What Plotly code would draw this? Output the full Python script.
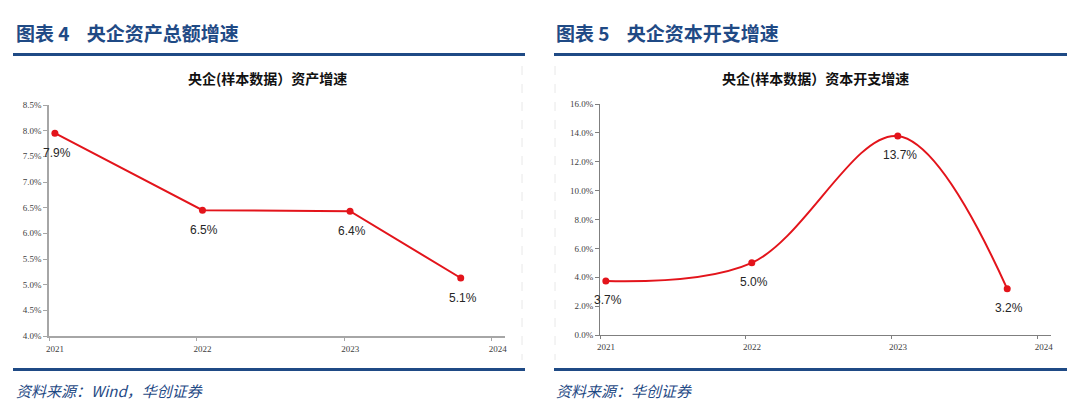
import plotly.graph_objects as go

# ---- data ----
x_pos = [2021.04, 2022.04, 2023.04, 2023.79]
asset_growth = [0.0795, 0.0645, 0.0643, 0.0513]
asset_labels = ["7.9%", "6.5%", "6.4%", "5.1%"]
capex_growth = [0.0374, 0.0500, 0.1378, 0.0320]
capex_labels = ["3.7%", "5.0%", "13.7%", "3.2%"]
year_ticks = [2021, 2022, 2023, 2024]
year_labels = ["2021", "2022", "2023", "2024"]

RED = "#E3141B"
BLUE = "#1F4A85"
W, H = 1080, 399

def px(x):
    return x / W

def py(y):
    return 1 - y / H

fig = go.Figure()

fig.add_trace(go.Scatter(
    x=x_pos, y=asset_growth, mode="lines+markers",
    line=dict(color=RED, width=2), marker=dict(color=RED, size=7),
    xaxis="x", yaxis="y", showlegend=False, hoverinfo="skip"))

fig.add_trace(go.Scatter(
    x=x_pos, y=capex_growth, mode="lines+markers",
    line=dict(color=RED, width=2, shape="spline", smoothing=1.0),
    marker=dict(color=RED, size=7),
    xaxis="x2", yaxis="y2", showlegend=False, hoverinfo="skip"))

tickfont = dict(family="Liberation Serif", size=9, color="#404040")

common_x = dict(tickmode="array", tickvals=year_ticks, ticktext=year_labels,
                showgrid=False, zeroline=False, showline=True, automargin=False,
                ticks="outside", ticklen=3, tickfont=tickfont,
                range=[2021, 2024.09], ticklabelshift=6)
common_y = dict(showgrid=False, zeroline=False, showline=True, automargin=False,
                ticks="outside", ticklen=4, tickfont=tickfont, tickformat=".1%")

fig.update_layout(
    width=W, height=H,
    margin=dict(l=0, r=0, t=0, b=0, autoexpand=False),
    paper_bgcolor="white", plot_bgcolor="white",
    xaxis=dict(domain=[px(41), px(497)], anchor="y",
               linecolor="#A6A6A6", linewidth=1.5, tickcolor="#A6A6A6", **common_x),
    yaxis=dict(domain=[py(328), py(97)], anchor="x", range=[0.04, 0.085], dtick=0.005,
               linecolor="#A6A6A6", linewidth=1.5, tickcolor="#A6A6A6", **common_y),
    xaxis2=dict(domain=[px(592), px(1043)], anchor="y2",
                linecolor="#7F7F7F", linewidth=1, tickcolor="#7F7F7F", **common_x),
    yaxis2=dict(domain=[py(327), py(96)], anchor="x2", range=[0, 0.16], dtick=0.02,
                linecolor="#7F7F7F", linewidth=1, tickcolor="#7F7F7F", **common_y),
)

labfont = dict(family="Liberation Sans", size=12, color="#262626")
ann = []
for xv, yv, t in zip(x_pos, asset_growth, asset_labels):
    ann.append(dict(x=xv, y=yv, xref="x", yref="y", text=t, showarrow=False,
                    yshift=-20, xshift=2, font=labfont))
for xv, yv, t in zip(x_pos, capex_growth, capex_labels):
    ann.append(dict(x=xv, y=yv, xref="x2", yref="y2", text=t, showarrow=False,
                    yshift=-19, xshift=2, font=labfont))

hdr_font = dict(family="Noto Sans CJK SC", size=19, color=BLUE, weight="bold")
ann.append(dict(x=px(6), y=py(24), xref="paper", yref="paper", xanchor="left", yanchor="middle",
                text="图表 4 &nbsp;&nbsp; 央企资产总额增速", showarrow=False, font=hdr_font))
ann.append(dict(x=px(546), y=py(24), xref="paper", yref="paper", xanchor="left", yanchor="middle",
                text="图表 5 &nbsp;&nbsp; 央企资本开支增速", showarrow=False, font=hdr_font))

ttl_font = dict(family="Noto Sans CJK SC", size=14, color="#111111", weight="bold")
ann.append(dict(x=px(259), y=py(70), xref="paper", yref="paper", xanchor="center", yanchor="middle",
                text="央企(样本数据）资产增速", showarrow=False, font=ttl_font))
ann.append(dict(x=px(807), y=py(70), xref="paper", yref="paper", xanchor="center", yanchor="middle",
                text="央企(样本数据）资本开支增速", showarrow=False, font=ttl_font))

src_font = dict(family="Noto Sans CJK SC", size=15, color=BLUE, style="italic")
ann.append(dict(x=px(6), y=py(382), xref="paper", yref="paper", xanchor="left", yanchor="middle",
                text="资料来源：Wind，华创证券", showarrow=False, font=src_font))
ann.append(dict(x=px(546), y=py(382), xref="paper", yref="paper", xanchor="left", yanchor="middle",
                text="资料来源：华创证券", showarrow=False, font=src_font))

fig.update_layout(annotations=ann)

shapes = []
for x0, x1 in [(5, 517), (546, 1059)]:
    for yy in (46.5, 361.5):
        shapes.append(dict(type="line", xref="paper", yref="paper",
                           x0=px(x0), x1=px(x1), y0=py(yy), y1=py(yy),
                           line=dict(color=BLUE, width=3)))
for xx in (514, 547):
    shapes.append(dict(type="line", xref="paper", yref="paper",
                       x0=px(xx), x1=px(xx), y0=py(58), y1=py(352),
                       line=dict(color="#E8E8E8", width=1, dash="dash")))
fig.update_layout(shapes=shapes)

fig.write_html("out.html")
